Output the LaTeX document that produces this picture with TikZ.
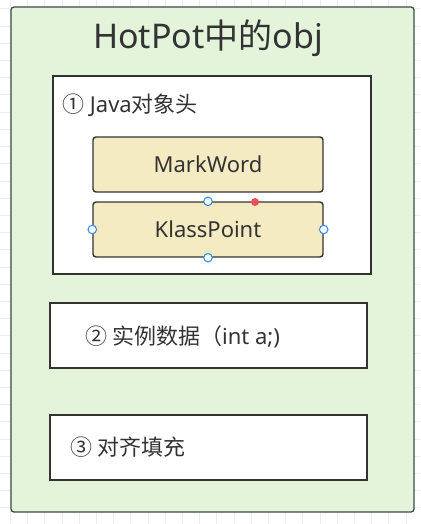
\documentclass[tikz,border=0pt]{standalone}
\usepackage{fontspec}
\setmainfont{Noto Sans}
\newfontfamily\cjk{Noto Sans CJK SC}
\definecolor{outerfill}{HTML}{E3F4DB}
\definecolor{outerdraw}{HTML}{3E4A44}
\definecolor{boxdraw}{HTML}{333333}
\definecolor{beige}{HTML}{F5EBC2}
\definecolor{txt}{HTML}{333333}
\definecolor{gridc}{HTML}{EDEDED}
\definecolor{handleblue}{HTML}{3A8EEF}
\definecolor{handlered}{HTML}{EF4F57}
\tikzset{
  outerbox/.style={draw=outerdraw, fill=outerfill, line width=1.3pt, rounded corners=3pt, minimum width=403pt, minimum height=505pt, inner sep=0pt},
  whitebox/.style={draw=boxdraw, fill=white, line width=1.4pt, inner sep=0pt},
  fieldbox/.style={draw=boxdraw, fill=beige, line width=1.4pt, rounded corners=3pt, minimum width=230pt, minimum height=55pt, inner sep=0pt, text=txt, font=\fontsize{22}{26}\selectfont},
  lbl/.style={text=txt, font=\fontsize{22}{26}\selectfont, anchor=west, inner sep=0pt},
  handle/.style={circle, draw=handleblue, fill=white, line width=1.1pt, minimum size=8.5pt, inner sep=0pt},
  reddot/.style={circle, fill=handlered, minimum size=8pt, inner sep=0pt},
  gridline/.style={gridc, line width=0.8pt}
}
\begin{document}
\begin{tikzpicture}[x=1pt,y=-1pt]
\useasboundingbox (0,0) rectangle (420,524);
\fill[white] (0,0) rectangle (420,524);
\foreach \i in {0,...,24} \draw[gridline] (10.4+\i*17.2,0) -- (10.4+\i*17.2,524);
\foreach \j in {0,...,30} \draw[gridline] (0,8.9+\j*17.2) -- (420,8.9+\j*17.2);
\node[outerbox] (outer) at (212.5,259.5) {};
\node[text=txt, font=\fontsize{34}{40}\selectfont, inner sep=0pt] (title) at (208,38) {HotPot{\cjk 中的}obj};
\node[whitebox, minimum width=318pt, minimum height=198pt] (header) at (212,175) {};
\node[lbl] (headerlbl) at (62,105) {{\cjk ①} Java{\cjk 对象头}};
\node[fieldbox] (mw) at (208,164.5) {MarkWord};
\node[fieldbox] (kp) at (208,229.5) {KlassPoint};
\node[handle] (hn) at (kp.north) {};
\node[handle] (hw) at (kp.west) {};
\node[handle] (he) at (kp.east) {};
\node[handle] (hs) at (kp.south) {};
\node[reddot] (hr) at (255,202) {};
\node[whitebox, minimum width=317pt, minimum height=65pt] (inst) at (208.5,335.5) {};
\node[lbl] (instlbl) at (85,337) {{\cjk ② 实例数据（}int a;)};
\node[whitebox, minimum width=317pt, minimum height=65pt] (pad) at (208.5,447.5) {};
\node[lbl] (padlbl) at (70,447) {{\cjk ③ 对齐填充}};
\end{tikzpicture}
\end{document}
